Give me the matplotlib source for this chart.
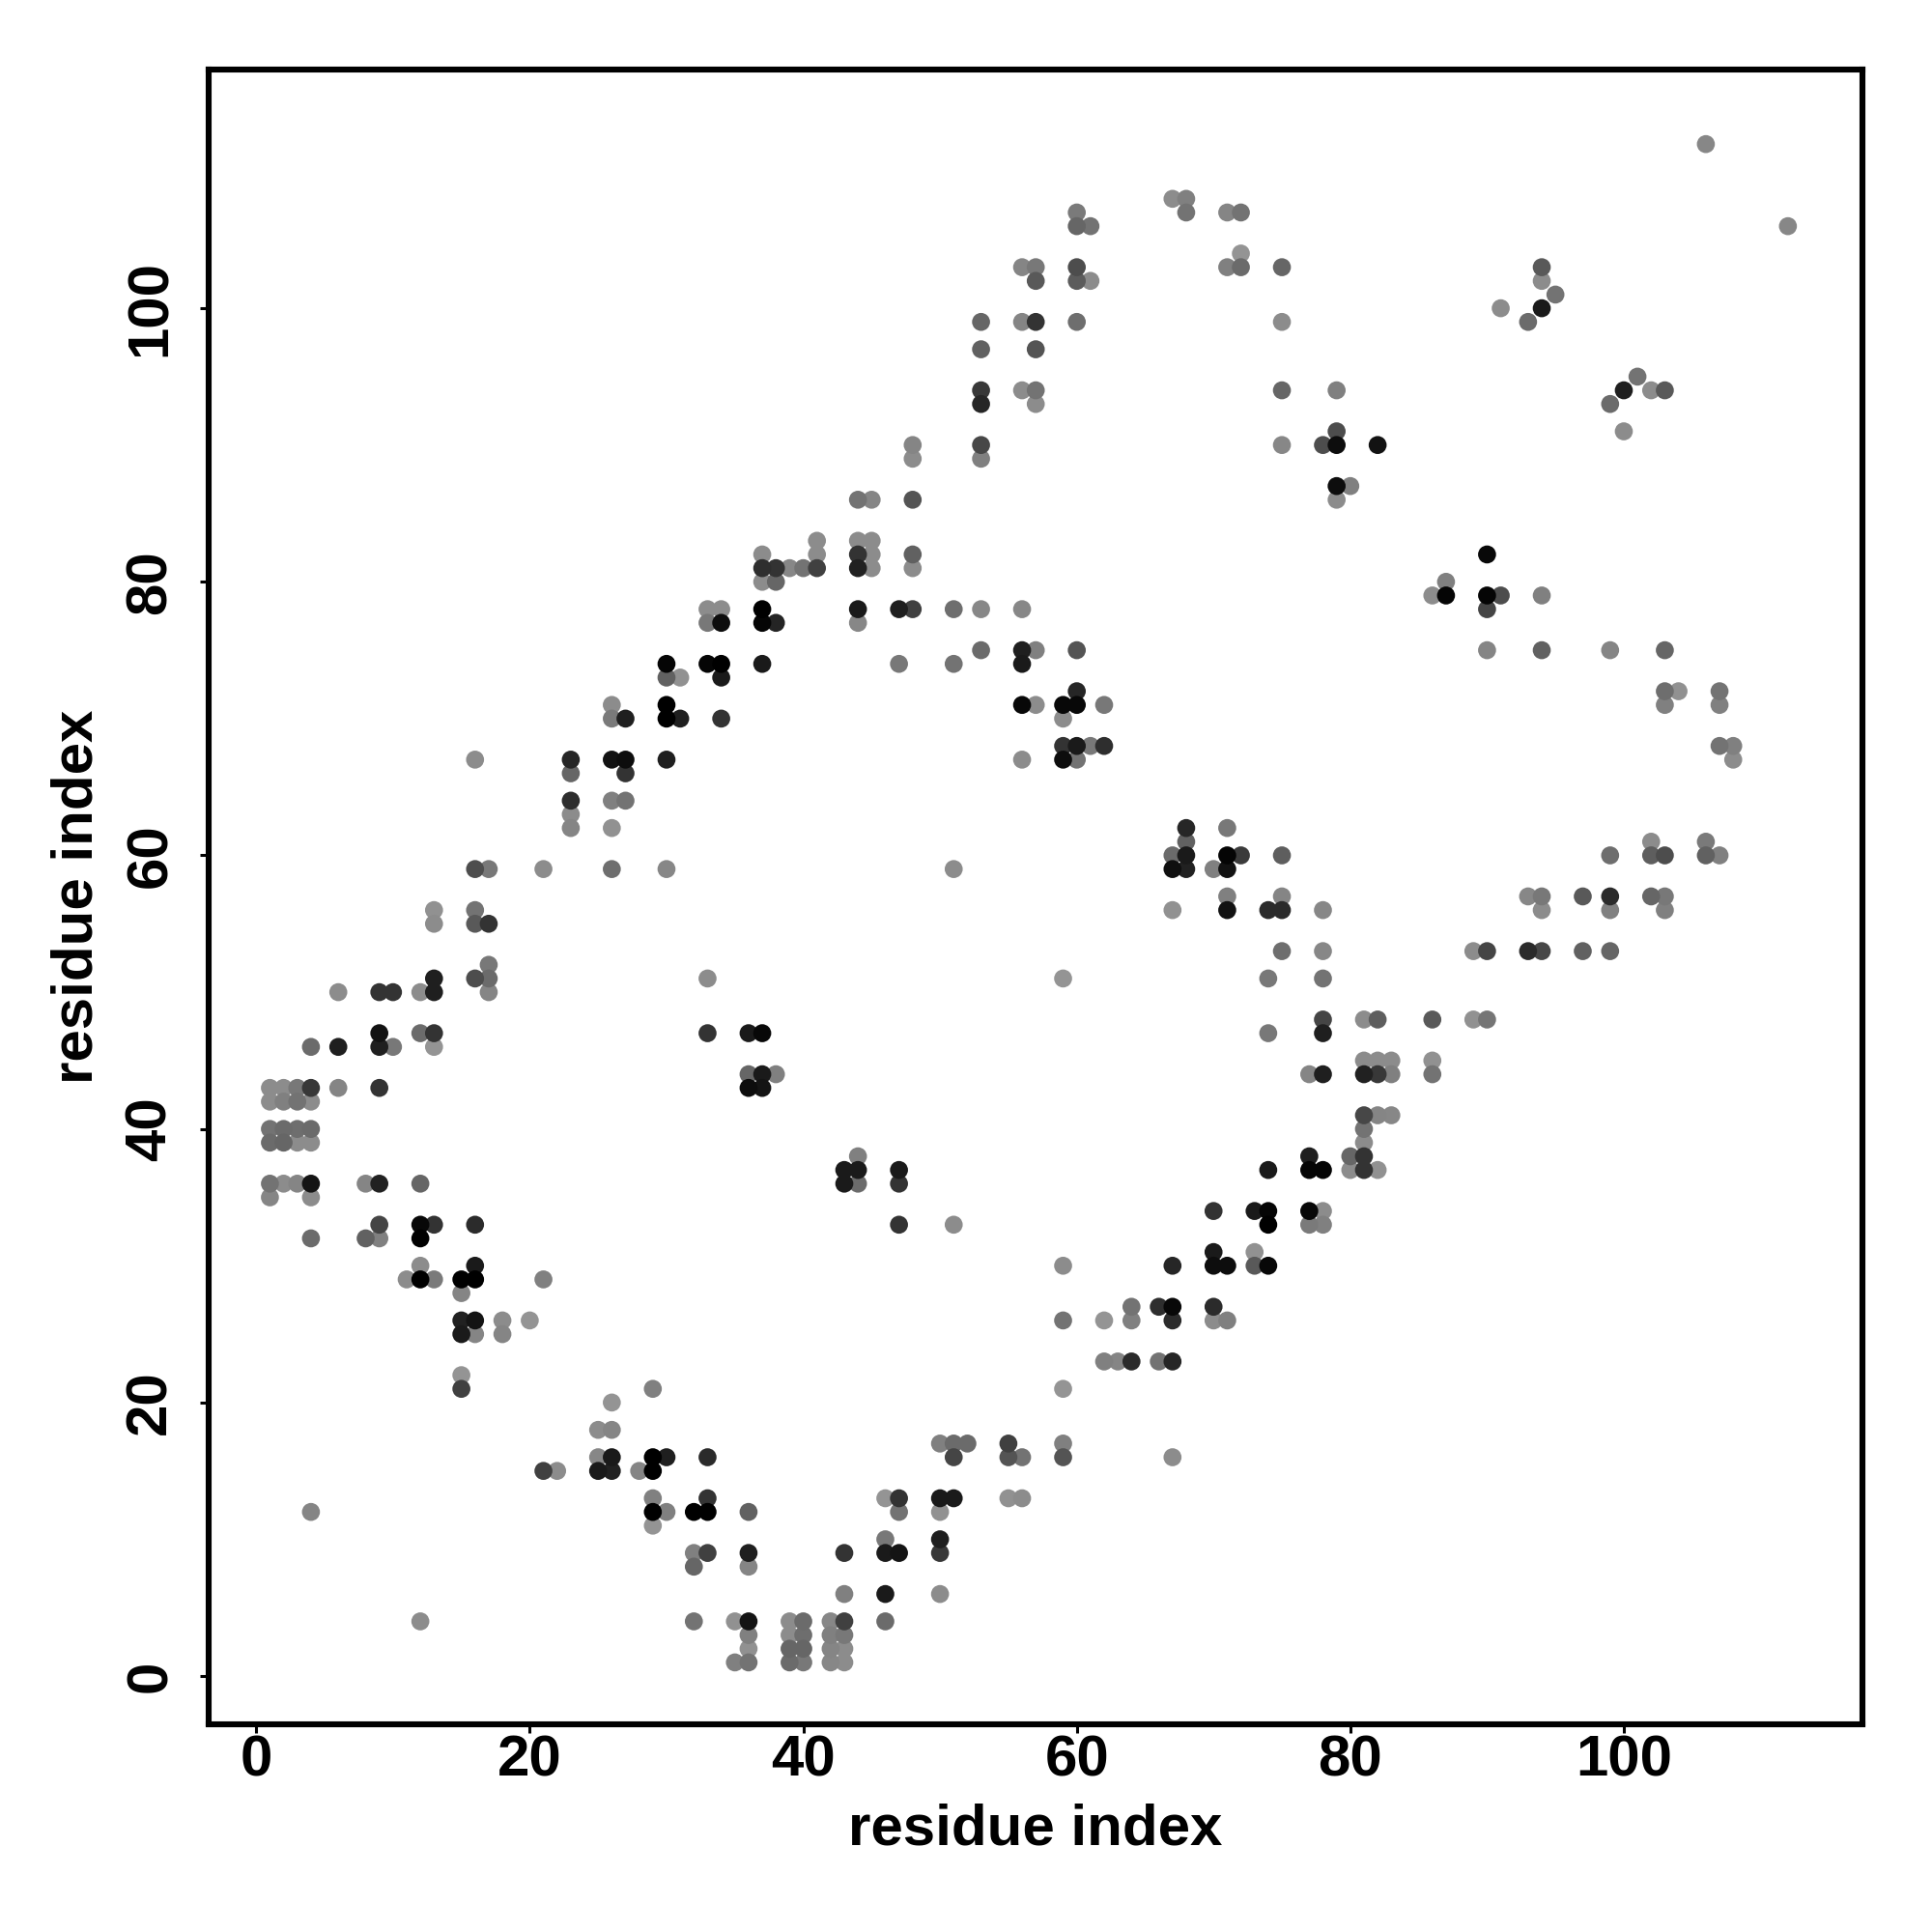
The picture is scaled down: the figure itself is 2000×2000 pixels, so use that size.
import matplotlib
matplotlib.use("Agg")
import matplotlib.pyplot as plt

plt.rcParams['font.family'] = ['Liberation Sans', 'DejaVu Sans']

AXIS_LABEL = "residue index"
TICKS = [0, 20, 40, 60, 80, 100]

row_y = [112, 108, 107, 106, 104, 103, 102, 101, 100, 99, 97, 95, 94, 93, 91, 90, 89, 87, 86, 83, 82, 81, 80, 79, 78, 77,
         75, 74, 73, 72, 71, 70, 68, 67, 66, 64, 63, 62, 61, 60, 59, 57, 56, 55, 53, 52, 51, 50, 48, 47, 46, 45, 44, 43,
         42, 41, 40, 39, 38, 37, 36, 35, 34, 33, 32, 31, 30, 29, 28, 27, 26, 25, 23, 22, 21, 20, 18, 17, 16, 15, 13, 12,
         11, 10, 9, 8, 6, 4, 3, 2, 1]

row_x = [
    [106], [67, 68], [60, 68, 71, 72], [60, 61, 112], [72],
    [56, 57, 60, 71, 72, 75, 94], [57, 60, 61, 94], [95], [91, 94],
    [53, 56, 57, 60, 75, 93], [53, 57], [101],
    [53, 56, 57, 75, 79, 100, 102, 103], [53, 57, 99], [79, 100],
    [53, 75, 78, 79, 82, 48], [53, 48], [79, 80], [44, 45, 48, 79],
    [41, 44, 45], [37, 41, 44, 45, 48, 90],
    [37, 38, 39, 40, 41, 44, 45, 48], [37, 38, 87], [86, 87, 90, 91, 94],
    [33, 34, 37, 44, 47, 48, 51, 53, 56, 90], [33, 34, 37, 38, 44],
    [53, 56, 57, 60, 90, 94, 99, 103], [30, 33, 34, 37, 47, 51, 56],
    [30, 31, 34], [60, 103, 104, 107],
    [26, 30, 56, 57, 59, 60, 62, 103, 107], [26, 27, 30, 31, 34, 59],
    [59, 60, 61, 62, 107, 108], [16, 23, 26, 27, 30, 56, 59, 60, 108],
    [23, 27], [23, 26, 27], [23], [23, 26, 68, 71], [68, 102, 106],
    [67, 68, 71, 72, 75, 99, 102, 103, 106, 107],
    [16, 17, 21, 26, 30, 51, 67, 68, 70, 71],
    [71, 75, 93, 94, 97, 99, 102, 103],
    [13, 16, 67, 71, 74, 75, 78, 94, 99, 103], [13, 16, 17],
    [75, 78, 89, 90, 93, 94, 97, 99], [17],
    [13, 16, 17, 33, 59, 74, 78], [6, 9, 10, 12, 13, 17],
    [78, 81, 82, 86, 89, 90], [9, 12, 13, 33, 36, 37, 74, 78],
    [4, 6, 9, 10, 13], [81, 82, 83, 86],
    [36, 37, 38, 77, 78, 81, 82, 83, 86], [1, 2, 3, 4, 6, 9, 36, 37],
    [1, 2, 3, 4], [81, 82, 83], [1, 2, 3, 4, 81], [1, 2, 3, 4, 81],
    [44, 77, 80, 81], [43, 44, 47, 74, 77, 78, 80, 81, 82],
    [1, 2, 3, 4, 8, 9, 12, 43, 44, 47], [1, 4], [70, 73, 74, 77, 78],
    [9, 12, 13, 16, 47, 51, 74, 77, 78], [4, 8, 9, 12], [70, 73],
    [12, 16, 59, 67, 70, 71, 73, 74], [11, 12, 13, 15, 16, 21], [15],
    [64, 66, 67, 70], [15, 16, 18, 20, 59, 62, 64, 67, 70, 71],
    [15, 16, 18], [62, 63, 64, 66, 67], [15], [15, 29, 59], [26], [25, 26],
    [50, 51, 52, 55, 59], [25, 26, 29, 30, 33, 51, 55, 56, 59, 67],
    [21, 22, 25, 26, 28, 29], [29, 33, 46, 47, 50, 51, 55, 56],
    [4, 29, 30, 32, 33, 36, 47, 50], [29], [46, 50],
    [32, 33, 36, 43, 46, 47, 50], [32, 36], [43, 46, 50],
    [12, 32, 35, 36, 39, 40, 42, 43, 46], [36, 39, 40, 42, 43],
    [36, 39, 40, 42, 43], [35, 36, 39, 40, 42, 43],
]

row_shade = [
    [.53], [.55, .5], [.48, .45, .52, .45], [.4, .45, .53], [.58],
    [.52, .47, .3, .5, .42, .4, .35], [.35, .36, .55, .55], [.45], [.55, .1],
    [.4, .52, .2, .43, .55, .42], [.38, .33], [.45],
    [.22, .55, .45, .4, .5, .12, .55, .35], [.15, .55, .42], [.3, .55],
    [.28, .53, .3, .05, .07, .52], [.5, .55], [.05, .5], [.45, .52, .33, .55],
    [.55, .55, .55], [.55, .55, .2, .55, .38, .03],
    [.18, .2, .53, .45, .25, .13, .55, .55], [.55, .4, .5], [.55, .02, .02, .3, .5],
    [.55, .55, 0, .1, .12, .25, .43, .53, .53, .27], [.47, .05, .02, .14, .53],
    [.42, .12, .5, .33, .52, .38, .52, .4], [.02, .02, 0, .1, .47, .45, .1],
    [.38, .57, .1], [.15, .43, .57, .45],
    [.55, 0, .03, .55, .03, .03, .47, .5, .5], [.48, .12, 0, .12, .2, .55],
    [.2, .1, .47, .18, .45, .5], [.55, .15, .07, .05, .12, .55, .05, .45, .55],
    [.4, .2], [.18, .5, .45], [.55], [.52, .57, .15, .47], [.38, .55, .48],
    [.42, .1, .02, .23, .37, .43, .37, .3, .38, .5],
    [.3, .47, .55, .43, .53, .55, .06, .13, .5, .07],
    [.5, .52, .53, .47, .35, .17, .4, .47],
    [.57, .45, .57, .07, .17, .17, .53, .55, .5, .5], [.55, .35, .2],
    [.43, .53, .55, .27, .17, .28, .38, .4], [.47],
    [.12, .3, .42, .55, .58, .47, .45], [.55, .2, .2, .55, .12, .52],
    [.27, .55, .37, .35, .57, .46], [.07, .42, .2, .2, .1, .03, .47, .12],
    [.42, .12, .12, .47, .58], [.55, .55, .55, .57],
    [.4, .1, .5, .52, .12, .13, .22, .5, .45], [.55, .55, .47, .22, .52, .2, .05, .08],
    [.55, .5, .45, .55], [.28, .52, .53], [.45, .42, .43, .42, .45], [.42, .4, .55, .55, .55],
    [.5, .12, .4, .2], [.1, .1, .1, .1, .02, .02, .55, .2, .57],
    [.45, .55, .52, .08, .52, .13, .4, .1, .42, .2], [.52, .55], [.2, .1, .02, .03, .55],
    [.27, .03, .2, .17, .2, .55, 0, .48, .5], [.42, .38, .5, 0], [.1, .57],
    [.55, .1, .55, .15, .05, .05, .35, .03], [.55, 0, .48, 0, 0, .5], [.52],
    [.45, .18, .03, .17], [.13, .08, .55, .58, .45, .58, .5, .17, .55, .5],
    [.1, .52, .52], [.5, .52, .17, .45, .15], [.58], [.25, .5, .58], [.58], [.55, .52],
    [.5, .42, .42, .25, .5], [.53, .1, 0, .12, .17, .27, .33, .45, .33, .55],
    [.25, .55, .1, .13, .52, 0], [.5, .2, .58, .2, .1, .1, .57, .55],
    [.52, 0, .5, 0, 0, .38, .45, .57], [.58], [.47, .12],
    [.5, .25, .12, .2, .1, .08, .22], [.4, .52], [.5, .1, .55],
    [.55, .45, .57, .08, .55, .42, .53, .25, .42], [.5, .55, .43, .5, .47],
    [.57, .4, .4, .52, .55], [.5, .45, .42, .47, .53, .55],
]

xs, ys, cs = [], [], []
for y, row, shades in zip(row_y, row_x, row_shade):
    for x, c in zip(row, shades):
        xs.append(x)
        ys.append(y)
        cs.append(c)
order = sorted(range(len(xs)), key=lambda i: -cs[i])

fig = plt.figure(figsize=(10, 10), dpi=200, facecolor='white')
ax = fig.add_axes([216/2000, 1-1784.5/2000, (1928-216)/2000, (1784.5-72)/2000])
ax.scatter([xs[i] for i in order], [ys[i] for i in order],
           c=[str(cs[i]) for i in order], s=45, linewidths=0, zorder=3)
ax.set_xlim(-3.48, 117.45)
ax.set_ylim(-3.49, 117.45)
for s in ax.spines.values():
    s.set_linewidth(2.2)
ax.set_xticks(TICKS)
ax.set_yticks(TICKS)
ax.tick_params(length=3.1, width=1.1, labelsize=21.6)
ax.tick_params(axis='x', pad=0.8)
ax.tick_params(axis='y', pad=8.5)
for t in ax.get_xticklabels():
    t.set_fontweight('bold')
for t in ax.get_yticklabels():
    t.set_fontweight('bold')
    t.set_rotation(90)
    t.set_va('center')
ax.set_xlabel(AXIS_LABEL, fontsize=21.6, fontweight='bold')
ax.set_ylabel(AXIS_LABEL, fontsize=21.6, fontweight='bold')
ax.xaxis.set_label_coords(0.5, (1784.5-1894)/1712.5, transform=ax.transAxes)
ax.yaxis.set_label_coords((80-216)/1712, 0.5, transform=ax.transAxes)
ax.xaxis.label.set_va('center')
ax.yaxis.label.set_va('center')
fig.savefig("out.png", dpi=200, facecolor='white')
